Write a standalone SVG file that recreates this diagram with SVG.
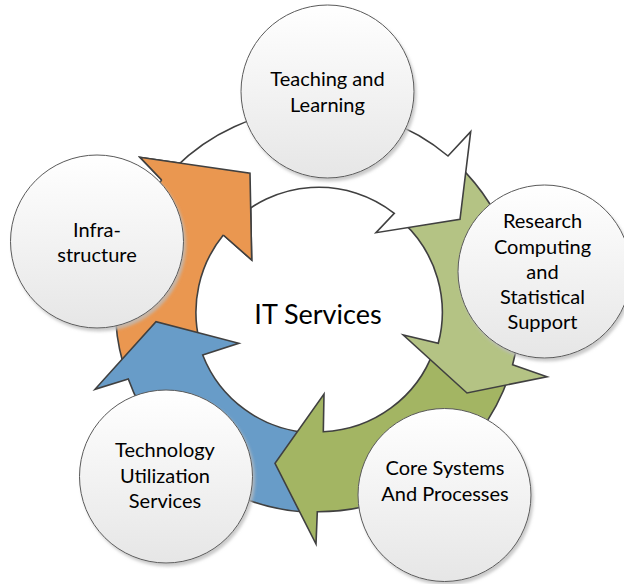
<svg xmlns="http://www.w3.org/2000/svg" width="624" height="584" viewBox="0 0 624 584">
<defs>
  <linearGradient id="cg" x1="0" y1="0" x2="0" y2="1">
    <stop offset="0" stop-color="#FFFFFF"/>
    <stop offset="1" stop-color="#E6E6E6"/>
  </linearGradient>
  <filter id="sh" x="-20%" y="-20%" width="140%" height="140%">
    <feDropShadow dx="2" dy="3" stdDeviation="1.5" flood-color="#BDBDBD" flood-opacity="0.8"/>
  </filter>
</defs>
<style>
  .arrow{stroke:#404040;stroke-width:1.6;stroke-linejoin:miter}
  .node circle{fill:url(#cg);stroke:#595959;stroke-width:1;filter:url(#sh)}
  text{font-family:Lato,"Open Sans",sans-serif;font-size:20px;fill:#000;text-anchor:middle}
  .center{font-size:27px}
</style>
<rect width="624" height="584" fill="#FFFFFF"/>
<g id="connectors">
  <path id="arrow-orange" class="arrow" fill="#EA9750" d="M122.88,362.78 A202,202 0 0 1 161.7,180 L140,157.3 L250,173.3 L251.7,260 L223.3,235 A122.5,122.5 0 0 0 199.67,342.21 Z"/>
  <path id="arrow-blue" class="arrow" fill="#689CC8" d="M303.91,512.01 A202,202 0 0 1 128.3,379 L95,389.3 L156,321.7 L238.8,343.3 L202.7,355 A122.5,122.5 0 0 0 309.45,432.7 Z"/>
  <path id="arrow-darkgreen" class="arrow" fill="#A3B563" d="M509,376.27 A202,202 0 0 1 317.3,511.7 L316,544 L275,463.3 L324,394 L323.3,431.7 A122.5,122.5 0 0 0 433.83,350.38 Z"/>
  <path id="arrow-lightgreen" class="arrow" fill="#B4C384" d="M458.33,165.2 A202,202 0 0 1 512.6,364.8 L547,376.7 L467,393 L403.3,335 L438.3,343.3 A122.5,122.5 0 0 0 403.1,222.39 Z"/>
  <path id="arrow-white" class="arrow" fill="#FFFFFF" d="M175.16,167.66 A202,202 0 0 1 448,156 L470.7,131.7 L460,219.3 L376,232.7 L394.3,213.3 A122.5,122.5 0 0 0 231.38,223.88 Z"/>
  <path fill="#EA9750" d="M161.7,180 L140,157.3 L250,173.3 L251.7,260 L223.3,235 Z"/>
  <polyline class="arrow" fill="none" points="161.7,180 140,157.3 250,173.3 251.7,260 223.3,235"/>
</g>
<g id="center-label">
  <text class="center" x="318" y="324">IT Services</text>
</g>
<g id="node-teaching" class="node">
  <circle cx="327.5" cy="91.5" r="86.5"/>
  <text x="327.5" y="86">Teaching and</text>
  <text x="327.5" y="112">Learning</text>
</g>
<g id="node-research" class="node">
  <circle cx="544.5" cy="271.5" r="86.5"/>
  <text x="542.5" y="228.3">Research</text>
  <text x="542.5" y="253.5">Computing</text>
  <text x="542.5" y="278.6">and</text>
  <text x="542.5" y="303.8">Statistical</text>
  <text x="542.5" y="329">Support</text>
</g>
<g id="node-core" class="node">
  <circle cx="444.5" cy="495" r="86.5"/>
  <text x="445" y="475">Core Systems</text>
  <text x="445" y="500.7">And Processes</text>
</g>
<g id="node-technology" class="node">
  <circle cx="166" cy="476.5" r="86.5"/>
  <text x="165" y="456.7">Technology</text>
  <text x="165" y="482.5">Utilization</text>
  <text x="165" y="507.7">Services</text>
</g>
<g id="node-infrastructure" class="node">
  <circle cx="97" cy="241.5" r="86.5"/>
  <text x="97" y="236.7">Infra-</text>
  <text x="97" y="261.7">structure</text>
</g>
</svg>
